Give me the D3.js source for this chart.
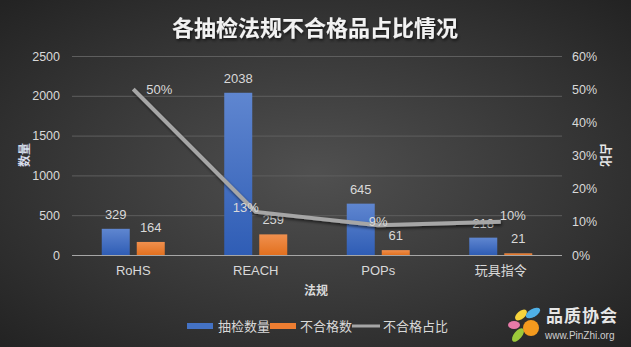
<!DOCTYPE html>
<html><head><meta charset="utf-8">
<script src="https://cdn.jsdelivr.net/npm/d3@7"></script>
<style>html,body{margin:0;padding:0;background:#333;}svg{display:block;}</style>
</head><body>
<script>
const categories = ["RoHS", "REACH", "POPs", "玩具指令"];
const inspected = [329, 2038, 645, 218];
const failed = [164, 259, 61, 21];
const failRate = [0.50, 0.13, 0.09, 0.10];
const leftTicks = [0, 500, 1000, 1500, 2000, 2500];
const rightTicks = [0, 0.1, 0.2, 0.3, 0.4, 0.5, 0.6];
const seriesNames = ["抽检数量", "不合格数", "不合格占比"];
// label placement offsets for rate labels (style only)
const rateLabelDx = [26, -10, 0, 12];
const rateLabelDy = [5, 0, 1, -2];

const W = 631, H = 347;
const m = {l: 72, r: 69, t: 56, b: 92};
const font = "'Liberation Sans','Noto Sans CJK SC',sans-serif";

const svg = d3.select("body").append("svg").attr("width", W).attr("height", H);
const defs = svg.append("defs");
const bg = defs.append("radialGradient").attr("id", "bg").attr("cx", "50%").attr("cy", "50%").attr("r", "70%");
bg.append("stop").attr("offset", "0%").attr("stop-color", "#505050");
bg.append("stop").attr("offset", "100%").attr("stop-color", "#232323");
const gb = defs.append("linearGradient").attr("id", "gb").attr("x1", 0).attr("y1", 0).attr("x2", 0).attr("y2", 1);
gb.append("stop").attr("offset", "0%").attr("stop-color", "#5f86d0");
gb.append("stop").attr("offset", "100%").attr("stop-color", "#2f5db5");
const go = defs.append("linearGradient").attr("id", "go").attr("x1", 0).attr("y1", 0).attr("x2", 0).attr("y2", 1);
go.append("stop").attr("offset", "0%").attr("stop-color", "#f0904e");
go.append("stop").attr("offset", "100%").attr("stop-color", "#e2701f");
const sh = defs.append("filter").attr("id", "sh").attr("x", "-10%").attr("y", "-50%").attr("width", "130%").attr("height", "200%");
sh.append("feDropShadow").attr("dx", 1).attr("dy", 2).attr("stdDeviation", 1.5).attr("flood-color", "#000").attr("flood-opacity", 0.6);

svg.append("rect").attr("width", W).attr("height", H).attr("fill", "url(#bg)");

const x = d3.scaleBand().domain(categories).range([m.l, W - m.r]);
const yL = d3.scaleLinear().domain([0, 2500]).range([H - m.b, m.t]);
const yR = d3.scaleLinear().domain([0, 0.6]).range([H - m.b, m.t]);

// title
svg.append("text").attr("x", 315).attr("y", 36).attr("text-anchor", "middle")
  .attr("font-family", "'Noto Sans CJK SC',sans-serif").attr("font-weight", "bold").attr("font-size", 22)
  .attr("fill", "#f2f2f2").attr("filter", "url(#sh)").text("各抽检法规不合格品占比情况");

// gridlines
svg.append("g").selectAll("line").data(leftTicks.filter(d => d > 0)).join("line")
  .attr("x1", m.l).attr("x2", W - m.r).attr("y1", d => yL(d) + 0.5).attr("y2", d => yL(d) + 0.5)
  .attr("stroke", "#5e5e5e").attr("stroke-width", 1);

// left axis
const axL = svg.append("g").attr("transform", `translate(${m.l - 9},0)`)
  .call(d3.axisLeft(yL).tickValues(leftTicks).tickSize(0).tickFormat(d3.format("d")));
axL.select(".domain").remove();
axL.selectAll("text").attr("font-family", font).attr("font-size", 12.5).attr("fill", "#d9d9d9");

// right axis
const axR = svg.append("g").attr("transform", `translate(${W - m.r + 7},0)`)
  .call(d3.axisRight(yR).tickValues(rightTicks).tickSize(0).tickFormat(d3.format(".0%")));
axR.select(".domain").remove();
axR.selectAll("text").attr("font-family", font).attr("font-size", 12.5).attr("fill", "#d9d9d9");

// bars
const bw = 28, gap = 3.5;
svg.append("g").selectAll("rect").data(inspected).join("rect")
  .attr("x", (d, i) => x(categories[i]) + x.bandwidth() / 2 - gap - bw)
  .attr("y", d => yL(d)).attr("width", bw).attr("height", d => yL(0) - yL(d))
  .attr("fill", "url(#gb)");
svg.append("g").selectAll("rect").data(failed).join("rect")
  .attr("x", (d, i) => x(categories[i]) + x.bandwidth() / 2 + gap)
  .attr("y", d => yL(d)).attr("width", bw).attr("height", d => yL(0) - yL(d))
  .attr("fill", "url(#go)");

// x axis line
svg.append("line").attr("x1", m.l).attr("x2", W - m.r).attr("y1", yL(0) + 0.5).attr("y2", yL(0) + 0.5)
  .attr("stroke", "#a6a6a6").attr("stroke-width", 1);

// x axis labels
const axX = svg.append("g").attr("transform", `translate(0,${yL(0) + 8})`)
  .call(d3.axisBottom(x).tickSize(0));
axX.select(".domain").remove();
axX.selectAll("text").attr("font-family", font).attr("font-size", 13).attr("fill", "#d9d9d9");

// bar labels
const lblStyle = s => s.attr("font-family", font).attr("font-size", 13).attr("fill", "#d9d9d9").attr("text-anchor", "middle");
svg.append("g").selectAll("text").data(inspected).join("text")
  .attr("x", (d, i) => x(categories[i]) + x.bandwidth() / 2 - gap - bw / 2)
  .attr("y", d => yL(d) - 10).text(d => d).call(lblStyle);
svg.append("g").selectAll("text").data(failed).join("text")
  .attr("x", (d, i) => x(categories[i]) + x.bandwidth() / 2 + gap + bw / 2)
  .attr("y", d => yL(d) - 10).text(d => d).call(lblStyle);

// line
const line = d3.line().x((d, i) => x(categories[i]) + x.bandwidth() / 2).y(d => yR(d));
svg.append("path").datum(failRate).attr("d", line).attr("fill", "none")
  .attr("stroke", "#a6a6a6").attr("stroke-width", 4).attr("stroke-linejoin", "round")
  .attr("filter", "url(#sh)");

// rate labels
svg.append("g").selectAll("text").data(failRate).join("text")
  .attr("x", (d, i) => x(categories[i]) + x.bandwidth() / 2 + rateLabelDx[i])
  .attr("y", (d, i) => yR(d) + rateLabelDy[i])
  .text(d => d3.format(".0%")(d)).call(lblStyle);

// axis titles
svg.append("text").attr("transform", `translate(29,155) rotate(-90)`).attr("text-anchor", "middle")
  .attr("font-family", font).attr("font-weight", "bold").attr("font-size", 12).attr("fill", "#d6dcec").text("数量");
svg.append("text").attr("transform", `translate(601,155) rotate(90)`).attr("text-anchor", "middle")
  .attr("font-family", font).attr("font-weight", "bold").attr("font-size", 12).attr("fill", "#e8e8e8").text("占比");
svg.append("text").attr("x", 316).attr("y", 295).attr("text-anchor", "middle")
  .attr("font-family", font).attr("font-weight", "bold").attr("font-size", 12).attr("fill", "#d9d9d9").text("法规");

// legend
const lg = svg.append("g").attr("font-family", font).attr("font-size", 13).attr("fill", "#d9d9d9");
const legendX = [187, 270, 352];
lg.append("rect").attr("x", legendX[0]).attr("y", 323).attr("width", 26).attr("height", 6).attr("fill", "#4472c4");
lg.append("rect").attr("x", legendX[1]).attr("y", 323).attr("width", 26).attr("height", 6).attr("fill", "#ed7d31");
lg.append("line").attr("x1", legendX[2]).attr("x2", legendX[2] + 28).attr("y1", 326).attr("y2", 326).attr("stroke", "#a6a6a6").attr("stroke-width", 3);
lg.append("text").attr("x", legendX[0] + 31).attr("y", 331).text(seriesNames[0]);
lg.append("text").attr("x", legendX[1] + 30).attr("y", 331).text(seriesNames[1]);
lg.append("text").attr("x", legendX[2] + 31).attr("y", 331).text(seriesNames[2]);

// watermark
const wm = svg.append("g");
wm.append("ellipse").attr("cx", 521).attr("cy", 315).attr("rx", 7).attr("ry", 4).attr("transform", "rotate(-40 521 315)").attr("fill", "#f6d33c");
wm.append("ellipse").attr("cx", 533).attr("cy", 313).attr("rx", 8).attr("ry", 4).attr("transform", "rotate(-30 533 313)").attr("fill", "#4fb0e6");
wm.append("ellipse").attr("cx", 514).attr("cy", 325).attr("rx", 6).attr("ry", 4).attr("fill", "#e77aa8");
wm.append("ellipse").attr("cx", 518).attr("cy", 335).attr("rx", 8).attr("ry", 4).attr("transform", "rotate(-50 518 335)").attr("fill", "#9cc93a");
wm.append("circle").attr("cx", 531).attr("cy", 328).attr("r", 8).attr("fill", "#f39a1e");
wm.append("text").attr("x", 546).attr("y", 322).attr("font-family", "'Noto Sans CJK SC',sans-serif").attr("font-weight", "bold").attr("font-size", 17)
  .attr("fill", "#e6e6e6").attr("letter-spacing", 1).text("品质协会");
wm.append("text").attr("x", 545).attr("y", 339).attr("font-family", font).attr("font-size", 10)
  .attr("fill", "#cfcfcf").text("www.PinZhi.org");
</script>
</body></html>
